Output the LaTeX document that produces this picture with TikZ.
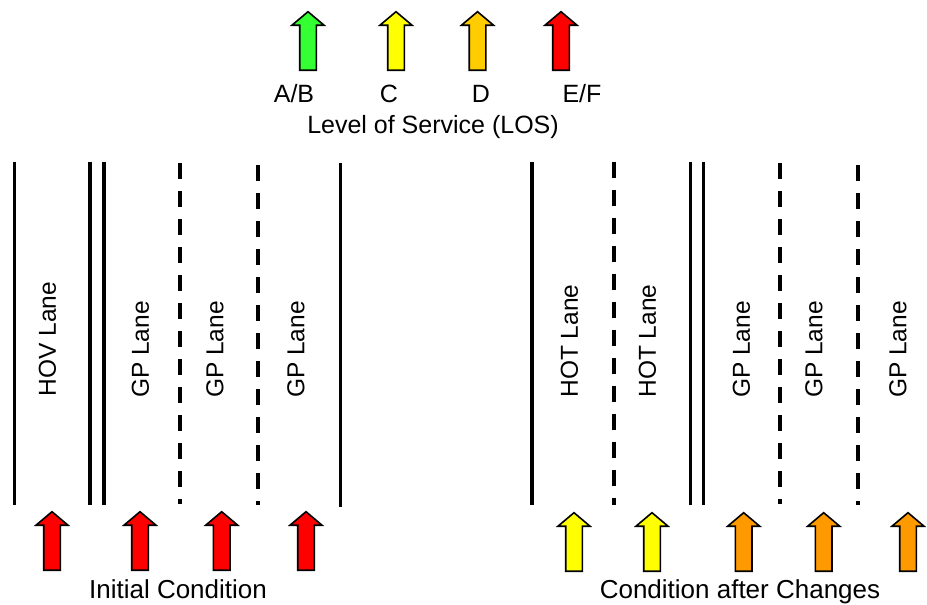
\documentclass[tikz,border=0pt]{standalone}
\usepackage{fontspec}
\setmainfont{Liberation Sans}
\definecolor{losAB}{RGB}{51,255,51}
\definecolor{losC}{RGB}{255,255,0}
\definecolor{losD}{RGB}{255,204,0}
\definecolor{losDD}{RGB}{255,153,0}
\definecolor{losEF}{RGB}{255,0,0}
\tikzset{
  solidline/.style={line width=3.4pt},
  dashline/.style={line width=3.8pt, dash pattern=on 16pt off 12pt},
  lanelabel/.style={rotate=90, inner sep=0pt, font=\fontsize{24.5}{28}\selectfont},
  toplabel/.style={anchor=base, inner sep=0pt, font=\fontsize{25}{30}\selectfont},
  caption/.style={anchor=base, inner sep=0pt, font=\fontsize{26}{31}\selectfont},
  pics/losarrow/.style={code={
    \fill[#1, draw=black, line width=1.6pt, line join=miter]
      (0,0) -- (16,13.5) -- (8.3,13.5) -- (8.3,58.5) -- (-8.3,58.5) -- (-8.3,13.5) -- (-16,13.5) -- cycle;
  }}
}
\begin{document}
\begin{tikzpicture}[x=1pt,y=-1pt]
\useasboundingbox (0,0) rectangle (927,605);
% legend arrows
\pic at (308,11.7) {losarrow=losAB};
\pic at (396,11.7) {losarrow=losC};
\pic at (477.5,11.7) {losarrow=losD};
\pic at (561,11.7) {losarrow=losEF};
\node[toplabel] (lab) at (294,102) {A/B};
\node[toplabel] (lc) at (389,102) {C};
\node[toplabel] (ld) at (481,102) {D};
\node[toplabel] (lef) at (582,102) {E/F};
\node[toplabel] (los) at (433,133) {Level of Service (LOS)};
% left road
\draw[solidline] (14.3,161.7) -- (14.3,505);
\draw[solidline] (90,161.7) -- (90,505);
\draw[solidline] (104,161.7) -- (104,505);
\draw[dashline] (180.3,163.3) -- (180.3,503.5);
\draw[dashline] (258.3,165) -- (258.3,505);
\draw[solidline] (340.3,163.3) -- (340.3,506.5);
\node[lanelabel] (hov) at (47.5,339) {HOV Lane};
\node[lanelabel] (gp1) at (140.5,349.5) {GP Lane};
\node[lanelabel] (gp2) at (215,349.5) {GP Lane};
\node[lanelabel] (gp3) at (296,349.5) {GP Lane};
\pic at (52,511.7) {losarrow=losEF};
\pic at (140,511.7) {losarrow=losEF};
\pic at (221.7,511.7) {losarrow=losEF};
\pic at (306,511.7) {losarrow=losEF};
\node[caption] (init) at (178,598) {Initial Condition};
% right road
\draw[solidline] (532,161.7) -- (532,505);
\draw[dashline] (614,161.7) -- (614,505);
\draw[solidline] (690.3,161.7) -- (690.3,505);
\draw[solidline] (703.7,161.7) -- (703.7,505);
\draw[dashline] (779.7,163.3) -- (779.7,503.5);
\draw[dashline] (858,165) -- (858,505);
\node[lanelabel] (hot1) at (569.5,341) {HOT Lane};
\node[lanelabel] (hot2) at (647.5,341) {HOT Lane};
\node[lanelabel] (gp4) at (741.5,349.5) {GP Lane};
\node[lanelabel] (gp5) at (814,349.5) {GP Lane};
\node[lanelabel] (gp6) at (898,349.5) {GP Lane};
\pic at (574,512.7) {losarrow=losC};
\pic at (652,512.7) {losarrow=losC};
\pic at (743.7,512.7) {losarrow=losDD};
\pic at (823.7,512.7) {losarrow=losDD};
\pic at (908,512.7) {losarrow=losDD};
\node[caption] (after) at (740,598) {Condition after Changes};
\end{tikzpicture}
\end{document}
